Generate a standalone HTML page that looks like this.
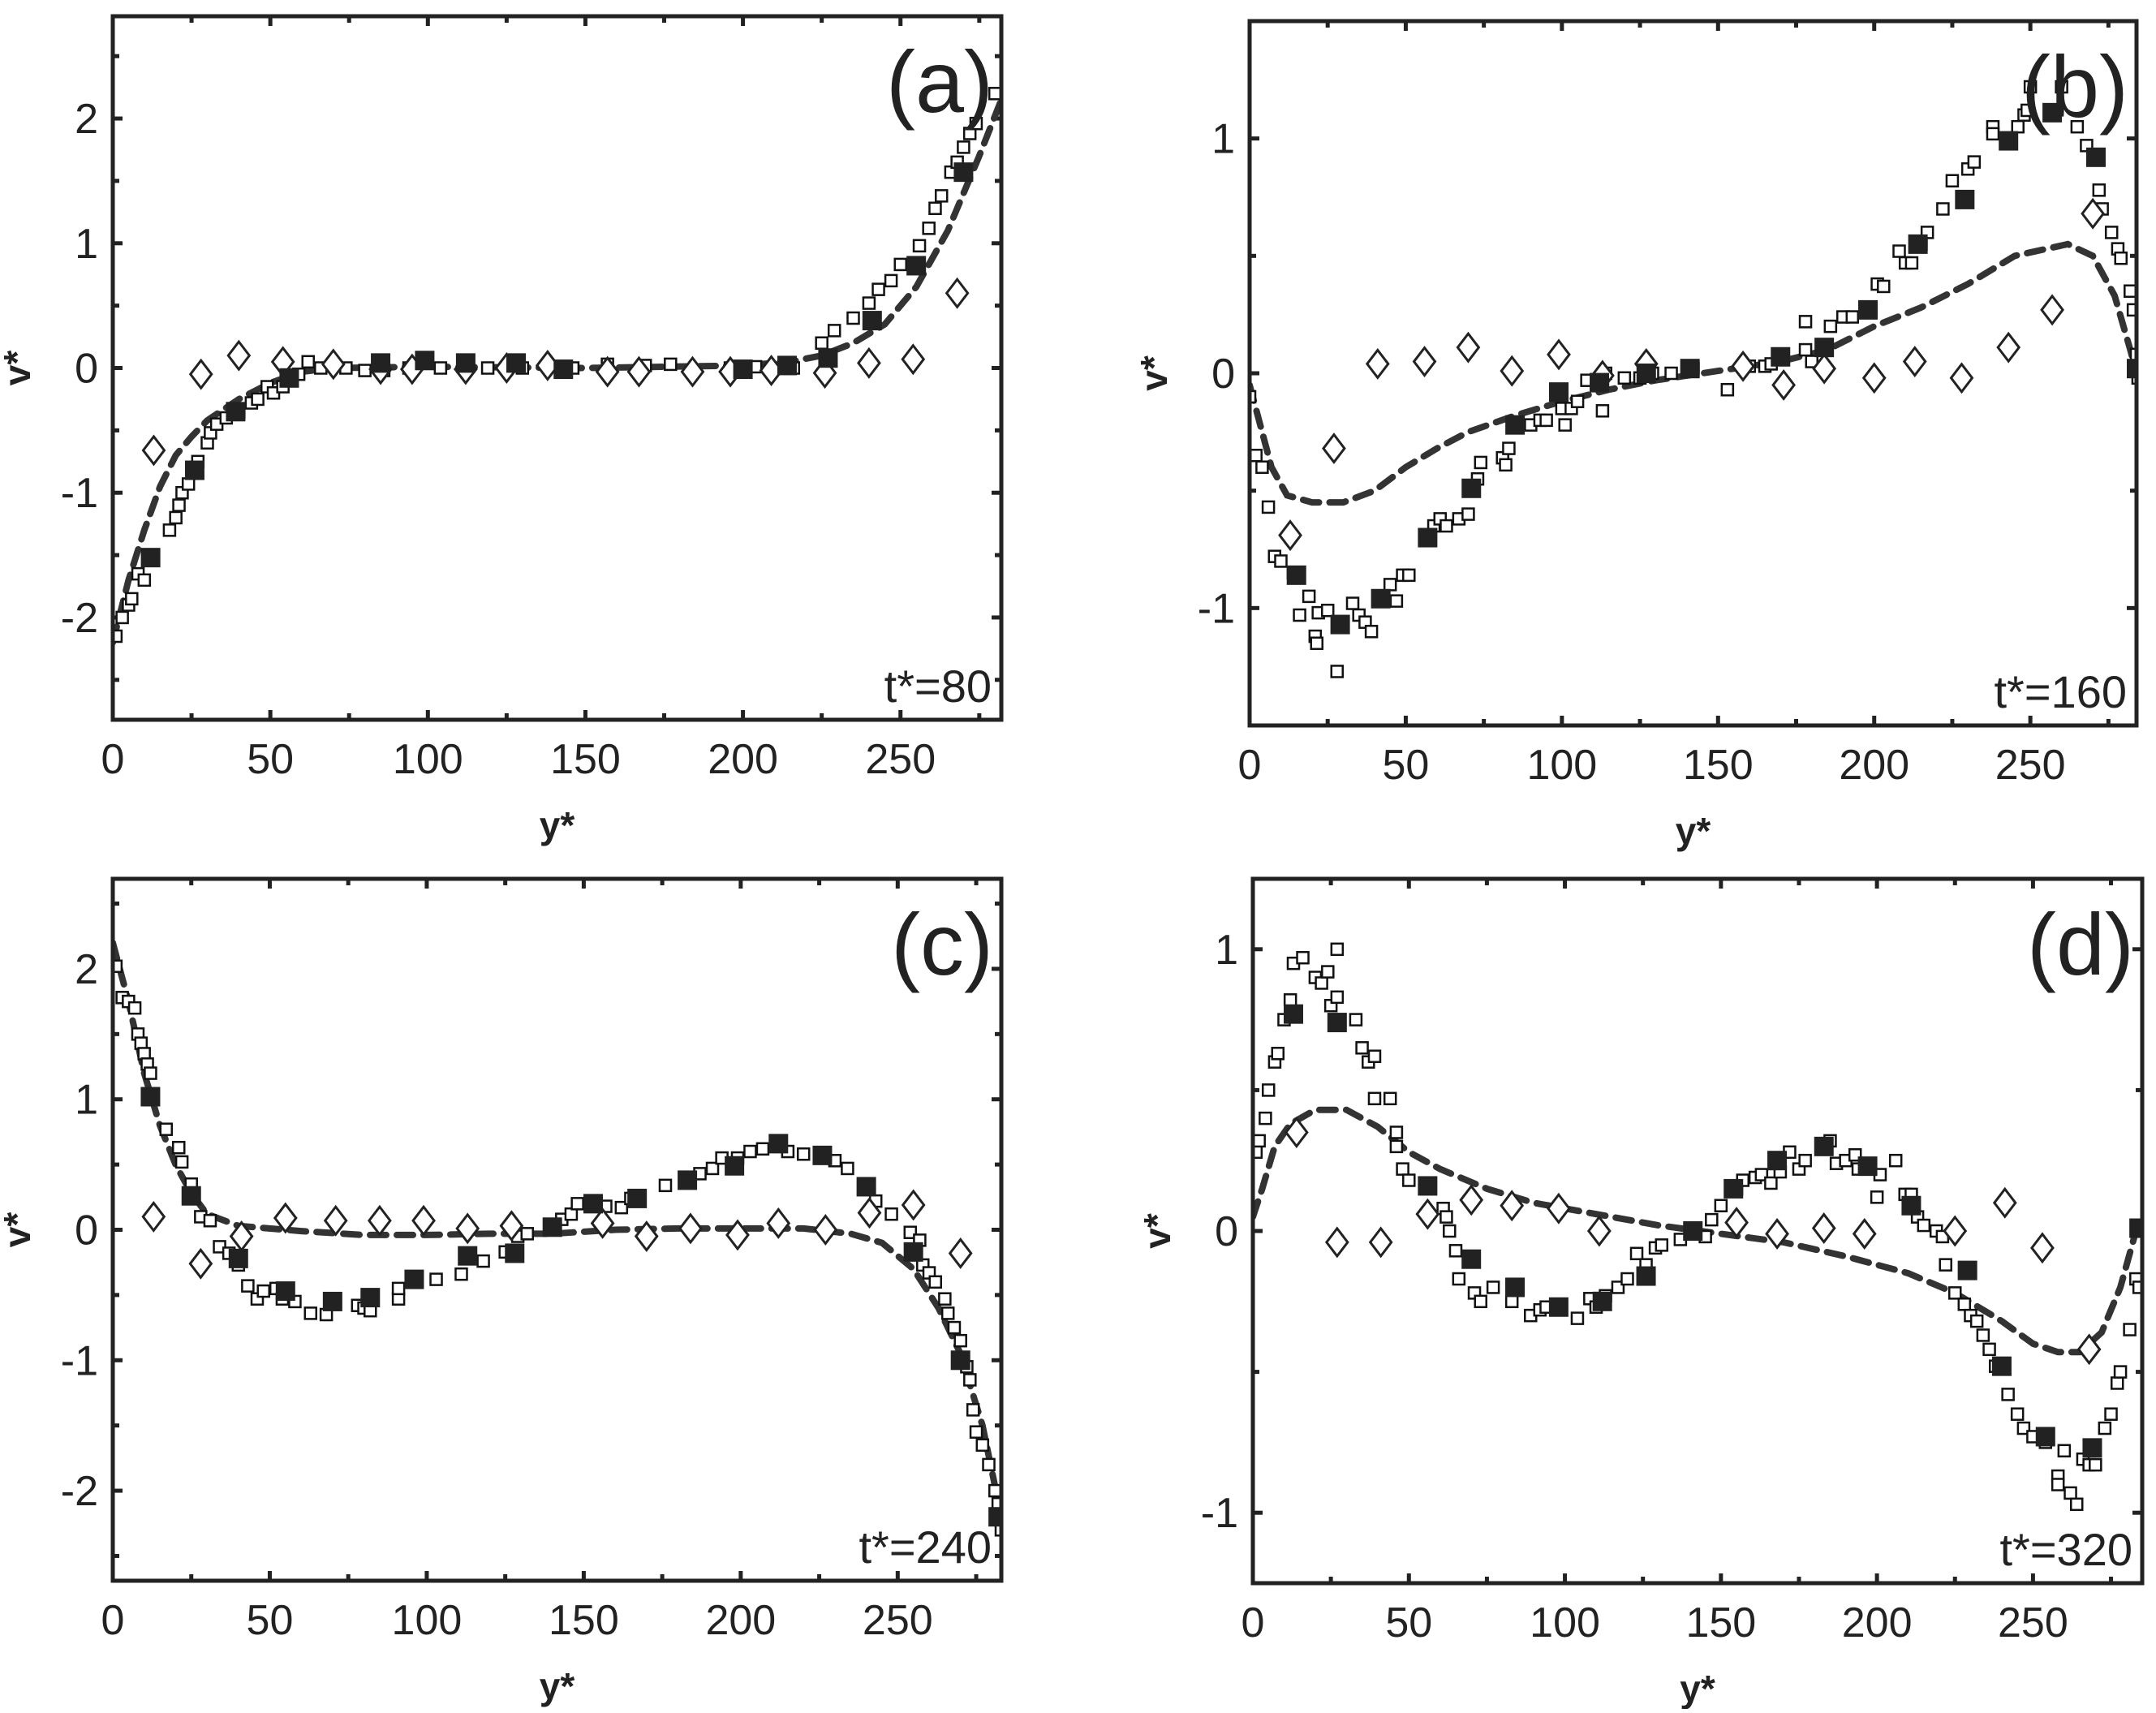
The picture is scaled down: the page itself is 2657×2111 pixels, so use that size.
<!DOCTYPE html>
<html><head><meta charset="utf-8"><style>
html,body{margin:0;padding:0;background:#fff;}
svg text{font-family:"Liberation Sans",Arial,sans-serif;fill:#222;}
</style></head><body>
<svg id="fig" width="2657" height="2106" viewBox="0 0 2657 2106" xmlns="http://www.w3.org/2000/svg"></svg>
<script>
// ---------- Panel (a) data ----------
const aOpenX=[1,3,5,6,8,10,18,20,21,22,24,27,30,31,33,36,40,44,46,49,51,54,56,59,62,66,74,80,86,94,104,119,130,146,157,169,177,196,204,216,225,229,235,240,243,247,250,256,259,261,263,266,268,270,272,274,280];
const aOpenY=[-2.15,-2.0,-1.9,-1.85,-1.65,-1.7,-1.3,-1.2,-1.1,-1.0,-0.93,-0.75,-0.6,-0.52,-0.45,-0.4,-0.35,-0.28,-0.25,-0.15,-0.2,-0.15,-0.1,-0.05,0.05,0,0,-0.02,-0.02,0,0,0,0,0,0.03,0.02,0.03,0,0.01,0,0.2,0.3,0.4,0.52,0.63,0.7,0.83,0.98,1.12,1.28,1.38,1.57,1.65,1.77,1.88,1.96,2.2];
const aFillX=[12,26,39,56,85,99,112,128,143,200,214,227,241,255,270];
const aFillY=[-1.52,-0.82,-0.35,-0.08,0.04,0.06,0.04,0.04,-0.01,-0.01,0.02,0.08,0.38,0.82,1.57];
const aDiaX=[13,28,40,54,70,85,95,112,125,138,157,167,184,196,209,226,240,254,268];
const aDiaY=[-0.66,-0.05,0.1,0.05,0.03,-0.01,-0.01,-0.01,0,0.02,-0.03,-0.03,-0.03,-0.03,-0.02,-0.04,0.04,0.07,0.6];
const aLineX=[0,5,10,15,20,25,30,40,50,60,70,100,150,200,215,225,235,245,255,265,275,282];
const aLineY=[-2.2,-1.7,-1.3,-0.95,-0.7,-0.55,-0.42,-0.25,-0.12,-0.03,0,0.01,0,0.02,0.05,0.1,0.2,0.35,0.65,1.1,1.7,2.15];
// ---------- Panel (b) data ----------
const bOpenX=[0,2,4,6,8,10,14,16,19,21,21.5,22,25,28,33,35,37,39,45,47,49,51,59,61,63,67,70,73,74,81,82,83,90,93,95,100,101,103,105,108,113,113,114,120,125,127,129,135,142,153,160,165,167,178,178,180,186,190,193,201,203,208,210,212,215,217,222,225,230,232,238,238,246,248,249,250,260,265,268,272,273,276,278,279,282,283,284,284.5];
const bOpenY=[-0.1,-0.35,-0.4,-0.57,-0.78,-0.8,-0.85,-1.03,-0.95,-1.12,-1.15,-1.02,-1.01,-1.27,-0.98,-1.03,-1.06,-1.1,-0.9,-0.97,-0.86,-0.86,-0.65,-0.62,-0.65,-0.62,-0.6,-0.45,-0.38,-0.36,-0.39,-0.32,-0.22,-0.2,-0.2,-0.15,-0.22,-0.15,-0.12,-0.03,-0.04,-0.16,0,-0.02,-0.02,0.03,0,0,0.02,-0.07,0.03,0.03,0.04,0.1,0.22,0.05,0.2,0.24,0.24,0.38,0.37,0.52,0.47,0.47,0.55,0.6,0.7,0.82,0.87,0.9,1.05,1.02,1.05,1.1,1.12,1.22,1.22,1.05,0.97,0.78,0.7,0.6,0.53,0.49,0.35,0.27,0.08,-0.02];
const bFillX=[15,29,42,57,71,85,99,112,127,141,170,184,198,214,229,243,257,271,284];
const bFillY=[-0.86,-1.07,-0.96,-0.7,-0.49,-0.22,-0.08,-0.04,0,0.02,0.07,0.11,0.27,0.55,0.74,0.99,1.11,0.92,0.02];
const bDiaX=[13,27,41,56,70,84,99,113,127,158,171,184,200,213,228,243,257,270];
const bDiaY=[-0.69,-0.32,0.04,0.05,0.11,0.01,0.08,-0.01,0.04,0.03,-0.05,0.02,-0.02,0.05,-0.02,0.11,0.27,0.68];
const bLineX=[0,3,7,12,20,30,40,50,60,70,85,100,115,130,150,170,185,200,215,230,245,262,270,277,282,284];
const bLineY=[-0.05,-0.2,-0.4,-0.52,-0.55,-0.55,-0.5,-0.4,-0.32,-0.25,-0.18,-0.12,-0.07,-0.03,0.01,0.05,0.1,0.2,0.28,0.38,0.5,0.55,0.5,0.33,0.1,0];
// ---------- Panel (c) data ----------
const cOpenX=[1,3,5,7,8,9,10,11,12,17,21,22,25,28,31,34,37,40,43,46,48,52,54,58,63,68,78,80,82,91,91,103,111,118,125,129,132,143,146,148,157,162,165,176,187,191,194,199,203,207,215,220,230,234,243,248,254,257,258,260,262,265,266,268,270,272,273,274,275,277,279,281,282,283];
const cOpenY=[2.02,1.78,1.75,1.7,1.5,1.43,1.35,1.27,1.2,0.77,0.63,0.52,0.35,0.1,0.07,-0.13,-0.18,-0.27,-0.43,-0.53,-0.47,-0.45,-0.53,-0.55,-0.64,-0.65,-0.58,-0.6,-0.62,-0.53,-0.45,-0.38,-0.34,-0.24,-0.17,-0.05,-0.03,0.08,0.12,0.2,0.18,0.17,0.24,0.34,0.43,0.47,0.55,0.55,0.6,0.62,0.6,0.58,0.53,0.47,0.22,0.12,-0.02,-0.08,-0.27,-0.33,-0.4,-0.53,-0.64,-0.75,-0.85,-1.05,-1.15,-1.38,-1.55,-1.65,-1.8,-2.0,-2.1,-2.3];
const cFillX=[12,25,40,55,70,82,96,113,128,140,153,167,183,198,212,226,240,255,270,282];
const cFillY=[1.02,0.26,-0.22,-0.47,-0.55,-0.52,-0.38,-0.2,-0.18,0.02,0.2,0.24,0.38,0.49,0.66,0.57,0.33,-0.17,-1.0,-2.2];
const cDiaX=[13,28,41,55,71,85,99,113,127,156,170,184,199,212,227,241,255,270];
const cDiaY=[0.1,-0.26,-0.05,0.09,0.07,0.07,0.07,0.01,0.03,0.05,-0.05,0.01,-0.04,0.05,0,0.13,0.19,-0.18];
const cLineX=[0,5,10,15,20,25,30,40,60,80,100,120,140,160,180,200,220,235,245,255,263,270,277,283];
const cLineY=[2.2,1.75,1.2,0.8,0.5,0.28,0.12,0.03,-0.01,-0.04,-0.04,-0.03,-0.03,0,0.01,0.01,0.01,-0.03,-0.1,-0.3,-0.6,-0.95,-1.5,-2.2];
// ---------- Panel (d) data ----------
const dOpenX=[1,2,4,5,7,8,10,12,13,16,20,22,24,25,27,27,33,35,37,39,39,44,46,46,48,50,61,62,63,65,66,71,73,77,83,89,92,94,104,108,110,113,117,120,123,126,129,131,137,145,147,150,155,157,161,163,166,169,172,175,177,185,187,190,193,194,200,201,206,209,211,213,215,219,221,222,225,228,230,232,234,236,238,242,245,247,250,254,258,258,260,262,264,266,268,270,273,275,277,278,281,283,284];
const dOpenY=[0.28,0.32,0.4,0.5,0.6,0.63,0.75,0.82,0.95,0.97,0.9,0.88,0.92,0.8,0.83,1.0,0.75,0.65,0.6,0.62,0.47,0.47,0.35,0.3,0.22,0.18,0.08,0.05,0,-0.07,-0.17,-0.22,-0.25,-0.2,-0.25,-0.3,-0.28,-0.27,-0.31,-0.24,-0.27,-0.23,-0.2,-0.17,-0.08,-0.12,-0.06,-0.05,-0.03,-0.02,0.04,0.09,0.15,0.18,0.19,0.2,0.17,0.21,0.28,0.22,0.25,0.32,0.24,0.25,0.27,0.22,0.12,0.2,0.25,0.13,0.13,0.05,0.02,0,-0.02,-0.12,-0.22,-0.26,-0.3,-0.32,-0.37,-0.42,-0.48,-0.58,-0.65,-0.7,-0.73,-0.75,-0.87,-0.9,-0.78,-0.93,-0.97,-0.81,-0.83,-0.83,-0.7,-0.65,-0.54,-0.5,-0.35,-0.17,-0.2];
const dFillX=[13,27,56,70,84,98,112,126,141,154,168,183,197,211,229,240,254,269,284];
const dFillY=[0.77,0.74,0.16,-0.1,-0.2,-0.27,-0.25,-0.16,0,0.15,0.25,0.3,0.23,0.09,-0.14,-0.48,-0.73,-0.77,0.01];
const dDiaX=[14,27,41,56,70,83,98,111,155,168,183,196,225,241,253,268];
const dDiaY=[0.35,-0.04,-0.04,0.06,0.11,0.09,0.08,0,0.03,-0.01,0.01,-0.01,0,0.1,-0.06,-0.42];
const dLineX=[0,3,7,12,20,30,40,50,60,75,90,110,130,150,170,190,210,225,240,250,258,265,272,278,283];
const dLineY=[0.05,0.15,0.3,0.38,0.43,0.43,0.37,0.28,0.22,0.15,0.1,0.06,0.02,-0.01,-0.04,-0.09,-0.15,-0.22,-0.32,-0.4,-0.43,-0.43,-0.36,-0.2,0];
// ---------- tick labels ----------
const xTickVals=[0,50,100,150,200,250];
const yTicksA=[-2,-1,0,1,2];
const yTicksB=[-1,0,1];

const NS='http://www.w3.org/2000/svg';
const svg=document.getElementById('fig');
function mk(tag,attrs,parent){const e=document.createElementNS(NS,tag);for(const k in attrs)e.setAttribute(k,attrs[k]);(parent||svg).appendChild(e);return e;}

function panel(cfg){
  const g=mk('g',{});
  
  
  const {L,R,T,B,xmax,ymin,ymax}=cfg;
  const sx=v=>L+(v/xmax)*(R-L);
  const sy=v=>B-(v-ymin)/(ymax-ymin)*(B-T);
  const tg=mk('g',{stroke:'#222','stroke-width':5},g);
  
  
  for(let v=0;v<=xmax;v+=25){const x=sx(v);const len=(v%50===0)?12:8;
    mk('line',{x1:x,y1:B,x2:x,y2:B-len},tg);mk('line',{x1:x,y1:T,x2:x,y2:T+len},tg);}
  for(let v=Math.ceil(ymin*2)/2;v<=ymax;v+=0.5){const y=sy(v);const len=(Math.abs(v%1)<1e-6)?12:8;
    mk('line',{x1:L,y1:y,x2:L+len,y2:y},tg);mk('line',{x1:R,y1:y,x2:R-len,y2:y},tg);}
  xTickVals.forEach(v=>{const t=mk('text',{x:sx(v),y:B+66,'text-anchor':'middle','font-size':52},g);t.textContent=v;
    });
  cfg.yt.forEach(v=>{const t=mk('text',{x:L-18,y:sy(v)+18,'text-anchor':'end','font-size':52},g);t.textContent=v;
    });
  const xt=mk('text',{x:(L+R)/2,y:B+146,'text-anchor':'middle','font-size':46,'font-weight':'bold'},g);xt.textContent='y*';
  
  const yx=L-102, yy=(T+B)/2;
  const yt=mk('text',{x:yx,y:yy,'text-anchor':'middle','font-size':46,'font-weight':'bold',transform:`rotate(-90 ${yx} ${yy})`},g);yt.textContent='v*';
  
  const cp=mk('clipPath',{id:'clip'+cfg.id},g);mk('rect',{x:L,y:T,width:R-L,height:B-T},cp);
  const dg=mk('g',{'clip-path':`url(#clip${cfg.id})`},g);
  const pts=cfg.lx.map((x,i)=>sx(x)+','+sy(cfg.ly[i])).join(' ');
  const pl=mk('polyline',{points:pts,fill:'none',stroke:'#333','stroke-width':8,'stroke-dasharray':'20 13','stroke-linecap':'round'},dg);
  
  cfg.ox.forEach((x,i)=>{const r=mk('rect',{x:sx(x)-7,y:sy(cfg.oy[i])-7,width:14,height:14,fill:'#fff',stroke:'#111','stroke-width':2.5},dg);
    });
  cfg.dx.forEach((x,i)=>{const cx=sx(x),cy=sy(cfg.dy[i]);
    const p=mk('polygon',{points:`${cx},${cy-17} ${cx+13},${cy} ${cx},${cy+17} ${cx-13},${cy}`,fill:'#fff',stroke:'#222','stroke-width':3},dg);
    });
  cfg.fx.forEach((x,i)=>{const r=mk('rect',{x:sx(x)-12,y:sy(cfg.fy[i])-12,width:24,height:24,fill:'#222'},dg);
    });
  const fr=mk('rect',{x:L,y:T,width:R-L,height:B-T,fill:'none',stroke:'#222','stroke-width':5},g);
  
  const pl2=mk('text',{x:R-10,y:T+118,'text-anchor':'end','font-size':108},g);pl2.textContent='('+cfg.id+')';
  
  const tl=mk('text',{x:R-12,y:B-22,'text-anchor':'end','font-size':56},g);tl.textContent=cfg.t;
  
}
panel({id:'a',L:139,R:1234,T:20,B:887,xmax:282,ymin:-2.82,ymax:2.82,yt:yTicksA,t:'t*=80',
  ox:aOpenX,oy:aOpenY,fx:aFillX,fy:aFillY,dx:aDiaX,dy:aDiaY,lx:aLineX,ly:aLineY});
panel({id:'b',L:1540,R:2633,T:26,B:894,xmax:284,ymin:-1.5,ymax:1.5,yt:yTicksB,t:'t*=160',
  ox:bOpenX,oy:bOpenY,fx:bFillX,fy:bFillY,dx:bDiaX,dy:bDiaY,lx:bLineX,ly:bLineY});
panel({id:'c',L:139,R:1234,T:1083,B:1948,xmax:283,ymin:-2.69,ymax:2.69,yt:yTicksA,t:'t*=240',
  ox:cOpenX,oy:cOpenY,fx:cFillX,fy:cFillY,dx:cDiaX,dy:cDiaY,lx:cLineX,ly:cLineY});
panel({id:'d',L:1544,R:2640,T:1083,B:1951,xmax:285,ymin:-1.25,ymax:1.25,yt:yTicksB,t:'t*=320',
  ox:dOpenX,oy:dOpenY,fx:dFillX,fy:dFillY,dx:dDiaX,dy:dDiaY,lx:dLineX,ly:dLineY});
</script>
</body></html>
